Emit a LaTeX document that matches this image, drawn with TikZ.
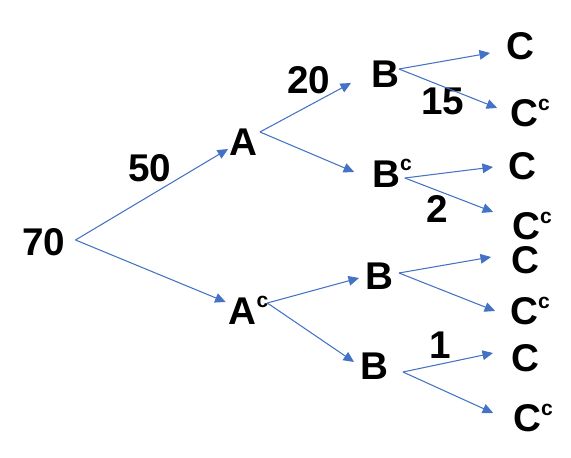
\documentclass[tikz,border=0pt]{standalone}
\usepackage{fontspec}
\setmainfont{Liberation Sans}
\usetikzlibrary{arrows.meta}
\definecolor{branch}{HTML}{4472C4}
\newcommand{\withc}[1]{#1\raisebox{9.6pt}{\fontsize{12}{12}\selectfont c}}

\begin{document}
\begin{tikzpicture}[
  lbl/.style={font=\fontsize{22}{24}\selectfont\bfseries, inner sep=0pt, outer sep=0pt},
  arr/.style={draw=branch, line width=0.6pt, -{Triangle[length=6pt, width=5.5pt]}}
]
\useasboundingbox (0,0) rectangle (11.42,9.14);

% Root and first split
\node[lbl] (n70) at (0.88,4.30) {70};
\node[lbl] (nA) at (4.86,6.30) {A};
\node[lbl] (nAc) at (4.97,2.94) {\withc{A}};
\node[lbl] (n50) at (3.00,5.78) {50};

% Second split
\node[lbl] (nB1) at (7.70,7.66) {B};
\node[lbl] (nBc) at (7.84,5.68) {\withc{B}};
\node[lbl] (nB3) at (7.58,3.62) {B};
\node[lbl] (nB4) at (7.48,1.82) {B};
\node[lbl] (n20) at (6.18,7.54) {20};

% Third split
\node[lbl] (nC1) at (10.40,8.22) {C};
\node[lbl] (nCc1) at (10.60,6.88) {\withc{C}};
\node[lbl] (nC2) at (10.44,5.82) {C};
\node[lbl] (nCc2) at (10.64,4.62) {\withc{C}};
\node[lbl] (nC3) at (10.50,3.93) {C};
\node[lbl] (nCc3) at (10.60,2.92) {\withc{C}};
\node[lbl] (nC4) at (10.50,1.98) {C};
\node[lbl] (nCc4) at (10.66,0.78) {\withc{C}};
\node[lbl] (n15) at (8.86,7.12) {15};
\node[lbl] (n2) at (8.74,4.96) {2};
\node[lbl] (n1) at (8.80,2.24) {1};

% Branches
\draw[arr] ([shift={(0.2,0.04)}]n70.east) -- ([shift={(-0.02,-0.14)}]nA.west);
\draw[arr] ([shift={(0.2,0.04)}]n70.east) -- ([shift={(-0.06,0.16)}]nAc.west);
\draw[arr] ([shift={(0.06,0.2)}]nA.east) -- ([shift={(-0.4,-0.18)}]nB1.west);
\draw[arr] ([shift={(0.06,0.2)}]nA.east) -- ([shift={(-0.36,0.02)}]nBc.west);
\draw[arr] ([shift={(-0.02,0.14)}]nAc.east) -- ([shift={(-0.12,-0.04)}]nB3.west);
\draw[arr] ([shift={(-0.02,0.14)}]nAc.east) -- ([shift={(-0.12,0.08)}]nB4.west);
\draw[arr] ([shift={(0,0.1)}]nB1.east) -- ([shift={(-0.32,-0.14)}]nC1.west);
\draw[arr] ([shift={(0,0.1)}]nB1.east) -- ([shift={(-0.26,0.1)}]nCc1.west);
\draw[arr] ([shift={(-0.14,-0.1)}]nBc.east) -- ([shift={(-0.3,-0.02)}]nC2.west);
\draw[arr] ([shift={(-0.14,-0.1)}]nBc.east) -- ([shift={(-0.38,0.28)}]nCc2.west);
\draw[arr] ([shift={(0.12,0.06)}]nB3.east) -- ([shift={(-0.4,0.07)}]nC3.west);
\draw[arr] ([shift={(0.12,0.06)}]nB3.east) -- ([shift={(-0.3,0)}]nCc3.west);
\draw[arr] ([shift={(0.3,-0.12)}]nB4.east) -- ([shift={(-0.36,0.1)}]nC4.west);
\draw[arr] ([shift={(0.3,-0.12)}]nB4.east) -- ([shift={(-0.4,0.1)}]nCc4.west);

\end{tikzpicture}
\end{document}
